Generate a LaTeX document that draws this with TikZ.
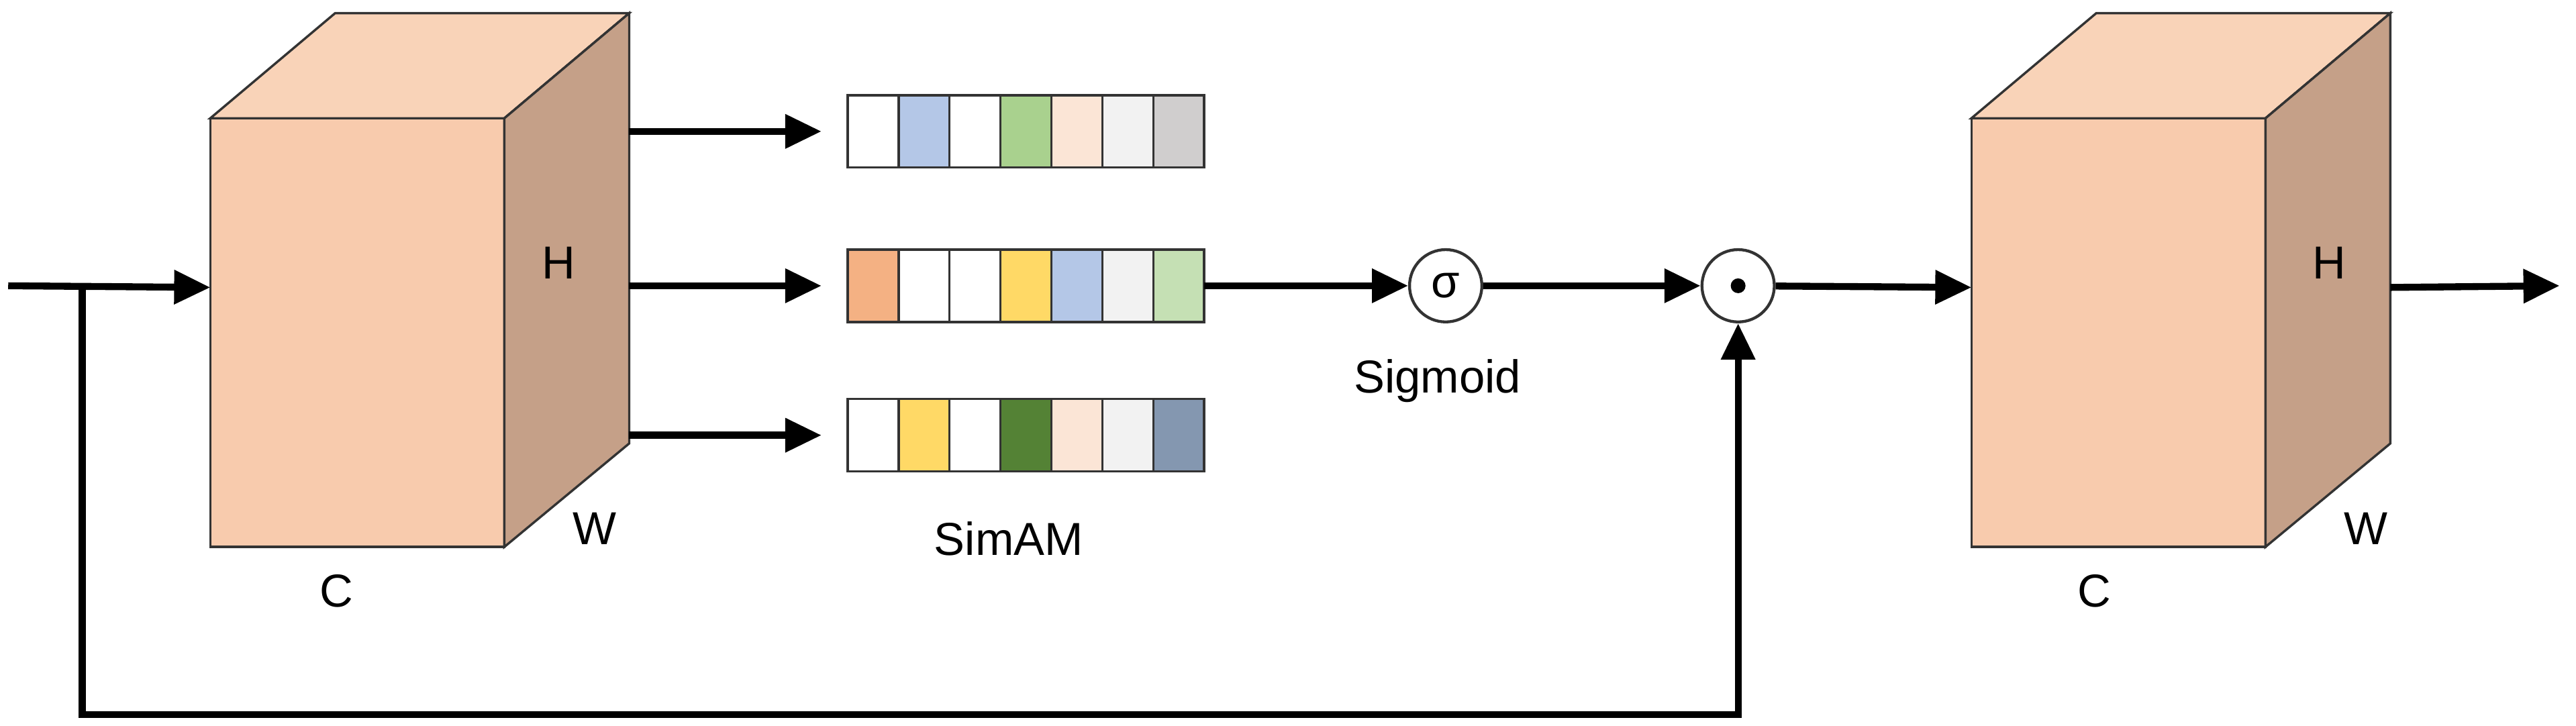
\documentclass[tikz,border=0pt]{standalone}
\usepackage{fontspec}
\setmainfont{Liberation Sans}
\usetikzlibrary{arrows.meta, positioning}
\definecolor{front}{HTML}{F8CBAD}
\definecolor{topc}{HTML}{F9D3B8}
\definecolor{sidec}{HTML}{C5A088}
\definecolor{cA}{HTML}{B4C7E7}
\definecolor{cB}{HTML}{A9D18E}
\definecolor{cC}{HTML}{FBE5D6}
\definecolor{cD}{HTML}{F2F2F2}
\definecolor{cE}{HTML}{D0CECE}
\definecolor{cF}{HTML}{F4B183}
\definecolor{cG}{HTML}{FFD966}
\definecolor{cH}{HTML}{C5E0B4}
\definecolor{cI}{HTML}{548235}
\definecolor{cJ}{HTML}{8497B0}
\tikzset{
  face/.style = {draw=black!80, line width=0.4pt},
  cell/.style = {draw=black!80, line width=0.4pt, minimum width=0.31cm, minimum height=0.44cm, inner sep=0pt, outer sep=0pt},
  flow/.style = {line width=1.2pt, -{Triangle[length=2.2mm, width=2mm]}},
  op/.style = {circle, draw=black!80, line width=0.5pt, minimum size=0.44cm, inner sep=0pt},
  lbl/.style = {font=\fontsize{8}{9}\selectfont}
}
\newcommand{\cube}[2]{%
  % front, top and side faces
  \fill[front, face] (#1,72) rectangle (#1+179,333);
  \fill[topc, face] (#1,72) -- (#1+76,8) -- (#1+255,8) -- (#1+179,72) -- cycle;
  \fill[sidec, face] (#1+179,72) -- (#1+255,8) -- (#1+255,270) -- (#1+179,333) -- cycle;
  \coordinate (#2in) at (#1,175);
  \coordinate (#2out) at (#1+255,175);
}
\begin{document}
\begin{tikzpicture}[x=0.01cm, y=-0.01cm]
    \useasboundingbox (0,0) rectangle (1568,442);

    % Cubes
    \cube{128}{l}
    \cube{1200}{r}
    \node[lbl] at (340,160) {H};
    \node[lbl] at (362,322) {W};
    \node[lbl] at (205,360) {C};
    \node[lbl] at (1418,160) {H};
    \node[lbl] at (1440,322) {W};
    \node[lbl] at (1275,360) {C};

    % Feature bars
    \foreach \c [count=\i] in {white, cA, white, cB, cC, cD, cE}
      \node[cell, fill=\c] (t\i) at (516+31*\i-15.5, 80) {};
    \foreach \c [count=\i] in {cF, white, white, cG, cA, cD, cH}
      \node[cell, fill=\c] (m\i) at (516+31*\i-15.5, 174) {};
    \foreach \c [count=\i] in {white, cG, white, cI, cC, cD, cJ}
      \node[cell, fill=\c] (b\i) at (516+31*\i-15.5, 265) {};
    \node[lbl] at (614,328) {SimAM};

    % Operators
    \node[op, lbl] (sig) at (880,174) {σ};
    \node[lbl] at (875,232) {Sigmoid};
    \node[op] (dot) at (1058,174) {};
    \fill (dot) circle (0.045cm);

    % Arrows
    \coordinate (src) at (5,174);
    \coordinate (split) at (50,174);
    \coordinate (end) at (1558,174);
    \draw[flow] (src) -- (lin);
    \draw[flow] (383,80) -- (t1.west -| 500,0);
    \draw[flow] (383,174) -- (m1.west -| 500,0);
    \draw[flow] (383,265) -- (b1.west -| 500,0);
    \draw[flow] (m7.east) -- (sig);
    \draw[flow] (sig) -- (dot);
    \draw[flow] (dot) -- (rin);
    \draw[flow] (rout) -- (end);
    \draw[flow] (split) -- (50,435) -| (dot.south);

\end{tikzpicture}
\end{document}
